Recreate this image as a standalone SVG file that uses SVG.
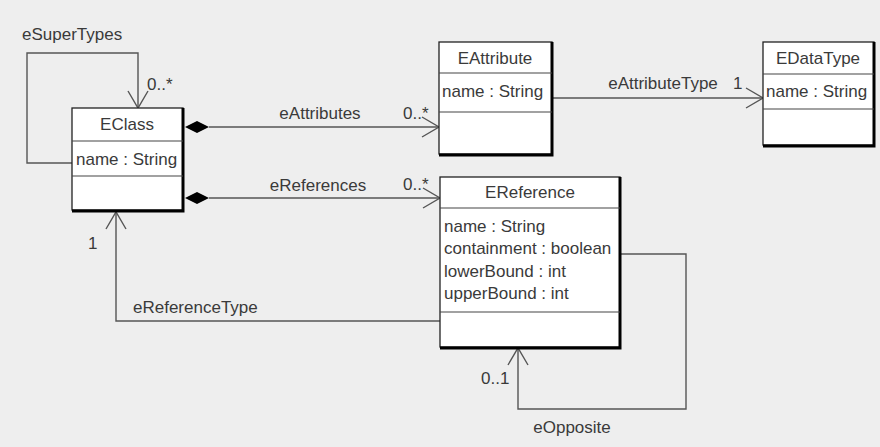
<svg xmlns="http://www.w3.org/2000/svg" width="880" height="447" viewBox="0 0 880 447">
<style>
text{font-family:"Liberation Sans",Arial,sans-serif;font-size:17px;fill:#3a3a3a}
.c{text-anchor:middle}
.box{fill:#fff;stroke:#222;stroke-width:1.3}
.div{stroke:#444;stroke-width:1.2}
.sh{fill:none;stroke:#000;stroke-width:3}
.ln{fill:none;stroke:#555;stroke-width:1.4}
.ar{fill:none;stroke:#555;stroke-width:1.4}
.dm{fill:#000}
</style>
<rect width="880" height="447" fill="#eeeeee"/>
<g id="connectors">
<!-- eSuperTypes -->
<polyline class="ln" points="72,163 27,163 27,53 138,53 138,108"/>
<polyline class="ar" points="128,91 138,108 148,91"/>
<!-- eAttributes -->
<line class="ln" x1="209" y1="127" x2="439" y2="127"/>
<polygon class="dm" points="185,127 197,121 209,127 197,133"/>
<polyline class="ar" points="422,117 439,127 422,137"/>
<!-- eReferences -->
<line class="ln" x1="209" y1="198" x2="440" y2="198"/>
<polygon class="dm" points="185,198 197,192 209,198 197,204"/>
<polyline class="ar" points="423,188 440,198 423,208"/>
<!-- eAttributeType -->
<line class="ln" x1="552" y1="98" x2="763" y2="98"/>
<polyline class="ar" points="746,88 763,98 746,108"/>
<!-- eReferenceType -->
<polyline class="ln" points="440,321 116,321 116,212"/>
<polyline class="ar" points="106,229 116,212 126,229"/>
<!-- eOpposite -->
<polyline class="ln" points="620,254 686,254 686,409 518,409 518,348"/>
<polyline class="ar" points="508,365 518,348 528,365"/>
<text x="22" y="40">eSuperTypes</text>
<text x="147" y="90">0..*</text>
<text class="c" x="320" y="119">eAttributes</text>
<text x="403" y="119">0..*</text>
<text class="c" x="318" y="191">eReferences</text>
<text x="403" y="190">0..*</text>
<text class="c" x="663" y="89">eAttributeType</text>
<text x="733" y="89">1</text>
<text x="88" y="249">1</text>
<text x="133" y="313">eReferenceType</text>
<text x="481" y="384">0..1</text>
<text class="c" x="572" y="433">eOpposite</text>
</g>
<g id="EClass">
<rect class="box" x="72" y="108" width="111" height="102"/>
<polyline class="sh" points="183,108 183,211 72,211"/>
<line class="div" x1="72" y1="141" x2="183" y2="141"/>
<line class="div" x1="72" y1="176" x2="183" y2="176"/>
<text class="c" x="127" y="130">EClass</text>
<text x="76" y="165">name : String</text>
</g>
<g id="EAttribute">
<rect class="box" x="439" y="42" width="113" height="112"/>
<polyline class="sh" points="552,42 552,155 439,155"/>
<line class="div" x1="439" y1="73" x2="552" y2="73"/>
<line class="div" x1="439" y1="112" x2="552" y2="112"/>
<text class="c" x="495" y="64">EAttribute</text>
<text x="442" y="97">name : String</text>
</g>
<g id="EDataType">
<rect class="box" x="763" y="42" width="111" height="103"/>
<polyline class="sh" points="874,42 874,146 763,146"/>
<line class="div" x1="763" y1="74" x2="874" y2="74"/>
<line class="div" x1="763" y1="109" x2="874" y2="109"/>
<text class="c" x="818" y="64">EDataType</text>
<text x="766" y="97">name : String</text>
</g>
<g id="EReference">
<rect class="box" x="440" y="177" width="180" height="170"/>
<polyline class="sh" points="620,177 620,348 440,348"/>
<line class="div" x1="440" y1="208" x2="620" y2="208"/>
<line class="div" x1="440" y1="312" x2="620" y2="312"/>
<text class="c" x="530" y="198">EReference</text>
<text x="444" y="232">name : String</text>
<text x="444" y="254">containment : boolean</text>
<text x="444" y="277">lowerBound : int</text>
<text x="444" y="299">upperBound : int</text>
</g>
</svg>
